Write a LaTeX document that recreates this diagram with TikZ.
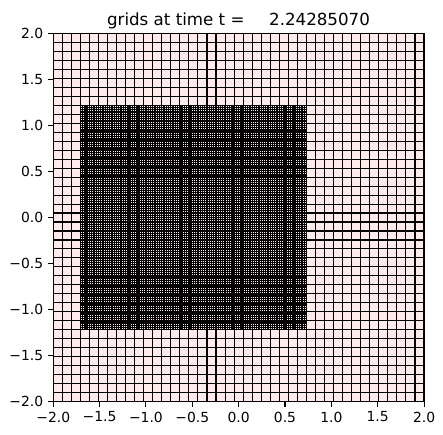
\documentclass[tikz,border=0pt]{standalone}
\usepackage{fontspec}
\setmainfont{DejaVu Sans}
\definecolor{cellpink}{RGB}{255,235,235}
\begin{document}
\begin{tikzpicture}[x=0.75pt,y=0.75pt,
  coarse/.style={black,line width=0.8pt},
  fine/.style={black,line width=1.0pt},
  axisframe/.style={black,line width=0.8pt},
  tickmark/.style={black,line width=0.8pt},
  ticklabel/.style={inner sep=0pt,font=\fontsize{10.42}{12}\selectfont},
  titletext/.style={inner sep=0pt,anchor=base,font=\fontsize{12.5}{14}\selectfont}]
\useasboundingbox (0,0) rectangle (443,435);
\node[titletext] (title) at (238.5,409.5) {grids at time t =\hspace{18.5pt}2.24285070};
\begin{scope}[shift={(238.65,217.5)}, x=69.525pt, y=69.075pt]
  \fill[cellpink] (-2,-2) rectangle (2,2);
  \pgfmathsetmacro\h{4/41}
  \foreach \i in {0,...,41} {
    \draw[coarse] ({-2+\i*\h},-2) -- ({-2+\i*\h},2);
    \draw[coarse] (-2,{-2+\i*\h}) -- (2,{-2+\i*\h});
  }
  \pgfmathsetmacro\xa{-2+3*\h}
  \pgfmathsetmacro\xb{-2+28*\h}
  \pgfmathsetmacro\ya{-2+8*\h}
  \pgfmathsetmacro\yb{-2+33*\h}
  \foreach \j in {0,...,100} {
    \draw[fine] ({\xa+\j*\h/4},\ya) -- ({\xa+\j*\h/4},\yb);
    \draw[fine] (\xa,{\ya+\j*\h/4}) -- (\xb,{\ya+\j*\h/4});
  }
  \draw[axisframe] (-2,-2) rectangle (2,2);
  \foreach \v/\t [count=\k] in {-2/{−2.0},-1.5/{−1.5},-1/{−1.0},-0.5/{−0.5},0/{0.0},0.5/{0.5},1/{1.0},1.5/{1.5},2/{2.0}} {
    \draw[tickmark] (\v,-2) -- ++(0,-3.68pt) coordinate (xt\k);
    \node[ticklabel,anchor=north] (xl\k) at ([yshift=-3.68pt]xt\k) {\t};
    \draw[tickmark] (-2,\v) -- ++(-3.68pt,0) coordinate (yt\k);
    \node[ticklabel,anchor=east] (yl\k) at ([xshift=-3.68pt]yt\k) {\t};
  }
\end{scope}
\end{tikzpicture}
\end{document}
